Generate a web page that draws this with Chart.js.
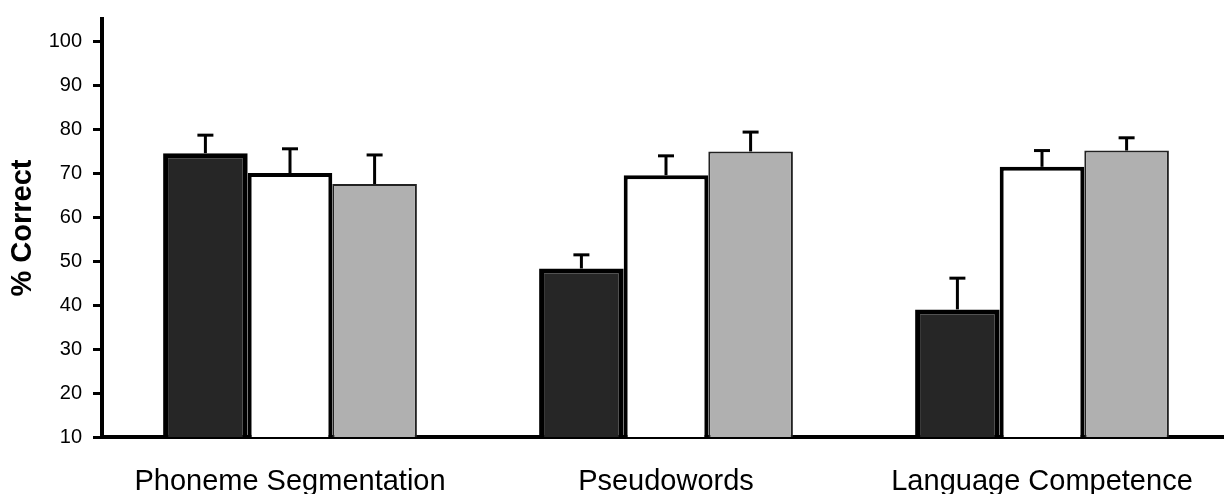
<!DOCTYPE html>
<html>
<head>
<meta charset="utf-8">
<script src="https://cdn.jsdelivr.net/npm/chart.js@4"></script>
<style>
  html, body { margin: 0; padding: 0; background: #fff; overflow: hidden; }
  #wrap { width: 1224px; height: 494px; overflow: hidden; }
</style>
</head>
<body>
<div id="wrap"><canvas id="chart" width="1230" height="494"></canvas></div>
<script>
// ===== DATA =====
const categories = ["Phoneme Segmentation", "Pseudowords", "Language Competence"];
const groupA = [74.5, 48.3, 39.0];
const groupB = [70.0, 69.5, 71.4];
const groupC = [67.5, 74.9, 75.1];
const errA = [4.1, 3.1, 7.1];
const errB = [5.5, 4.4, 3.7];
const errC = [6.6, 4.4, 2.9];
const yTicks = [10, 20, 30, 40, 50, 60, 70, 80, 90, 100];

const FONT = "'Liberation Sans', Arial, sans-serif";

// ===== ERROR BARS (only upward) =====
const errorBars = {
  id: "errorBars",
  afterDatasetsDraw(chart) {
    const ctx = chart.ctx;
    const y = chart.scales.y;
    ctx.save();
    ctx.strokeStyle = "#000";
    chart.data.datasets.forEach((ds, i) => {
      const meta = chart.getDatasetMeta(i);
      meta.data.forEach((bar, j) => {
        const top = y.getPixelForValue(ds.data[j] + ds.errors[j]);
        ctx.lineWidth = 3;
        ctx.beginPath();
        ctx.moveTo(bar.x, bar.y);
        ctx.lineTo(bar.x, top);
        ctx.stroke();
        ctx.beginPath();
        ctx.moveTo(bar.x - 8, top);
        ctx.lineTo(bar.x + 8, top);
        ctx.stroke();
      });
    });
    ctx.restore();
  }
};

new Chart(document.getElementById("chart"), {
  type: "bar",
  data: {
    labels: categories,
    datasets: [
      { label: "A", data: groupA, errors: errA, backgroundColor: "#262626", borderColor: "#000", borderWidth: 5 },
      { label: "B", data: groupB, errors: errB, backgroundColor: "#ffffff", borderColor: "#000", borderWidth: 4 },
      { label: "C", data: groupC, errors: errC, backgroundColor: "#b0b0b0", borderColor: "#222", borderWidth: 2 }
    ]
  },
  options: {
    responsive: false,
    animation: false,
    layout: { padding: { top: 19, right: 0, bottom: 0, left: 0 } },
    categoryPercentage: 0.675,
    barPercentage: 1.0,
    plugins: {
      legend: { display: false },
      tooltip: { enabled: false }
    },
    scales: {
      x: {
        grid: { display: false, drawTicks: false },
        border: { display: true, color: "#000", width: 4 },
        ticks: { color: "#000", padding: 28, font: { family: FONT, size: 29 }, maxRotation: 0, autoSkip: false },
        afterFit: s => { s.height = 57; s.paddingLeft = 0; s.paddingRight = 0; }
      },
      y: {
        min: 10,
        max: 105,
        afterBuildTicks: s => { s.ticks = yTicks.map(v => ({ value: v })); },
        grid: { drawOnChartArea: false, drawTicks: true, tickLength: 9, tickWidth: 3, color: "#000" },
        border: { display: true, color: "#000", width: 4 },
        ticks: { color: "#000", padding: 11, font: { family: FONT, size: 20 } },
        title: {
          display: true,
          text: "% Correct",
          color: "#000",
          padding: { top: 6, bottom: 0 },
          font: { family: FONT, size: 29, weight: "bold" }
        },
        afterFit: s => { s.width = 102; s.paddingTop = 0; s.paddingBottom = 0; }
      }
    }
  },
  plugins: [errorBars]
});
</script>
</body>
</html>
